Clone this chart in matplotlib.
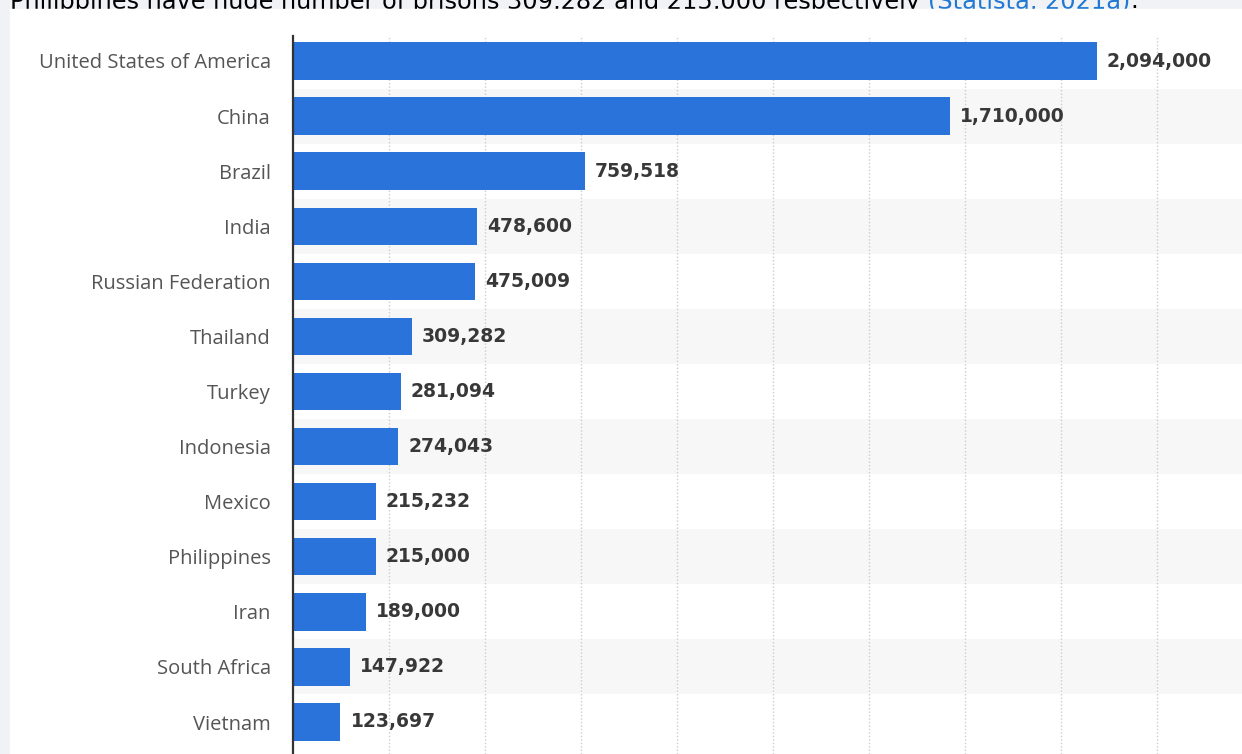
import matplotlib
matplotlib.use("Agg")
import matplotlib.pyplot as plt
from matplotlib.patches import Rectangle

# data
countries = ["United States of America", "China", "Brazil", "India",
             "Russian Federation", "Thailand", "Turkey", "Indonesia",
             "Mexico", "Philippines", "Iran", "South Africa", "Vietnam"]
prisoners = [2094000, 1710000, 759518, 478600, 475009, 309282, 281094,
             274043, 215232, 215000, 189000, 147922, 123697]
grid_ticks = [250000, 500000, 750000, 1000000, 1250000, 1500000,
              1750000, 2000000, 2250000]

caption_black = "Philippines have huge number of prisons 309,282 and 215,000 respectively "
caption_blue = "(Statista, 2021a)"

W, H = 1242, 754
fig = plt.figure(figsize=(W / 100, H / 100), dpi=100, facecolor="#f0f2f5")

# white chart panel, covers the lower half of the caption line
fig.patches.append(Rectangle((10 / W, 0), 1 - 10 / W, 1 - 9 / H,
                             transform=fig.transFigure, color="white", zorder=-1))

ax_left = 293 / W
ax_top = 36 / H
ax = fig.add_axes([ax_left, 0, 1 - ax_left, 1 - ax_top])

px_per_unit = (1097 - 293) / 2094000
xmax = (W - 293) / px_per_unit
ax.set_xlim(0, xmax)
spacing = (722 - 61) / 12
ax.set_ylim((754 - 61) / spacing, -(61 - 36) / spacing)

y = list(range(len(countries)))

# alternating row bands
for i in y:
    if i % 2 == 1:
        ax.axhspan(i - 0.5, i + 0.5, color="#f7f7f7", zorder=0, lw=0)

for t in grid_ticks:
    ax.axvline(t, color="#cccccc", ls=(0, (1, 1.5)), lw=1, zorder=1)

ax.barh(y, prisoners, height=0.68, color="#2a73da", zorder=2)

for yi, v in zip(y, prisoners):
    ax.text(v + 10 / px_per_unit, yi, f"{v:,}", va="center", ha="left",
            fontsize=13.5, fontweight="bold", color="#383838",
            family="DejaVu Sans", zorder=3)

ax.set_yticks(y)
ax.set_yticklabels(countries, fontsize=14.5, color="#555555", family="Open Sans")
ax.tick_params(axis="y", length=0, pad=16)
ax.set_xticks([])
for s in ["top", "right", "bottom"]:
    ax.spines[s].set_visible(False)
ax.spines["left"].set_color("#333333")
ax.spines["left"].set_linewidth(1.6)
ax.set_facecolor("white")

# caption line cut off at the top of the screenshot
base = 1 - 8.5 / H
t1 = fig.text(10 / W, base, caption_black, fontsize=17.3, color="black",
              family="DejaVu Sans", va="baseline", ha="left", zorder=-2)
fig.canvas.draw()
bb = t1.get_window_extent()
t2 = fig.text(bb.x1 / W, base, caption_blue, fontsize=17.3, color="#1f78d1",
              family="DejaVu Sans", va="baseline", ha="left", zorder=-2)
fig.canvas.draw()
bb2 = t2.get_window_extent()
fig.text(bb2.x1 / W, base, ".", fontsize=17.3, color="black",
         family="DejaVu Sans", va="baseline", ha="left", zorder=-2)

fig.savefig("out.png", dpi=100, facecolor=fig.get_facecolor())
